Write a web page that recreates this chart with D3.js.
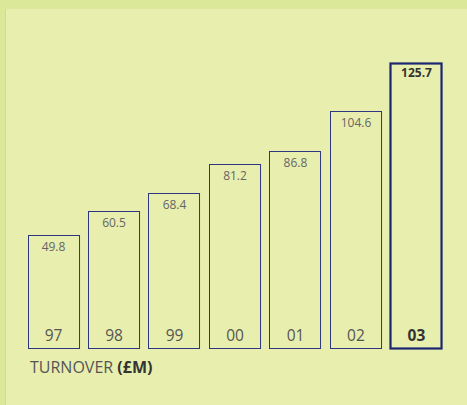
<!DOCTYPE html>
<html>
<head>
<meta charset="utf-8">
<script src="https://cdn.jsdelivr.net/npm/d3@7"></script>
<style>
  html, body { margin: 0; padding: 0; background: #dbe799; }
  svg { display: block; }
</style>
</head>
<body>
<svg id="plot"></svg>
<script>
const years = ['97', '98', '99', '00', '01', '02', '03'];
const turnover = [49.8, 60.5, 68.4, 81.2, 86.8, 104.6, 125.7];
const title = 'TURNOVER ';
const unit = '(£M)';

const width = 467;
const height = 405;
const font = '"Open Sans", "Noto Sans", sans-serif';

function main(){
  const svg = d3.select('svg#plot')
  .attr('width', width)
  .attr('height', height);

  // panel
  svg.append('rect')
  .attr('x', 5).attr('y', 9)
  .attr('width', width - 5).attr('height', height - 9)
  .attr('fill', '#e8eeae');
  svg.append('line')
  .attr('x1', 5.5).attr('x2', 5.5)
  .attr('y1', 9).attr('y2', height)
  .attr('stroke', '#cfdc8c');

  const sx = d3.scaleBand()
  .domain(years)
  .range([27.5, 442.5])
  .paddingInner(0.14)
  .paddingOuter(0);

  const sy = d3.scaleLinear()
  .domain([0, d3.max(turnover)])
  .range([347.8, 63.3]);

  const last = years.length - 1;
  const data = years.map((y, i) => ({year: y, value: turnover[i], last: i === last}));

  const bars = svg.selectAll('.bar')
  .data(data)
  .enter()
  .append('g')
  .attr('class', 'bar');

  bars.append('rect')
  .attr('x', d => Math.round(sx(d.year)) + 0.5)
  .attr('y', d => Math.round(sy(d.value)) + 0.5)
  .attr('width', sx.bandwidth() - 1)
  .attr('height', d => Math.round(sy(0)) - Math.round(sy(d.value)))
  .attr('fill', 'none')
  .attr('stroke', d => d.last ? '#1c2570' : '#2e3680')
  .attr('stroke-width', d => d.last ? 2.2 : 1);

  bars.append('text')
  .attr('x', d => sx(d.year) + sx.bandwidth() / 2)
  .attr('y', d => sy(d.value) + (d.last ? 13.5 : 16))
  .attr('text-anchor', 'middle')
  .attr('font-family', font)
  .attr('font-size', 12)
  .attr('font-weight', d => d.last ? 'bold' : 'normal')
  .attr('fill', d => d.last ? '#333' : '#666')
  .text(d => d.value.toFixed(1));

  bars.append('text')
  .attr('x', d => sx(d.year) + sx.bandwidth() / 2)
  .attr('y', sy(0) - 7)
  .attr('text-anchor', 'middle')
  .attr('font-family', font)
  .attr('font-size', 15.5)
  .attr('font-weight', d => d.last ? 'bold' : 'normal')
  .attr('fill', d => d.last ? '#333' : '#555')
  .text(d => d.year);

  const t = svg.append('text')
  .attr('x', 30)
  .attr('y', 373)
  .attr('font-family', font)
  .attr('font-size', 16)
  .attr('fill', '#555');
  t.append('tspan').text(title);
  t.append('tspan').attr('font-weight', 'bold').attr('fill', '#333').text(unit);
}

document.addEventListener('DOMContentLoaded', main);
</script>
</body>
</html>
